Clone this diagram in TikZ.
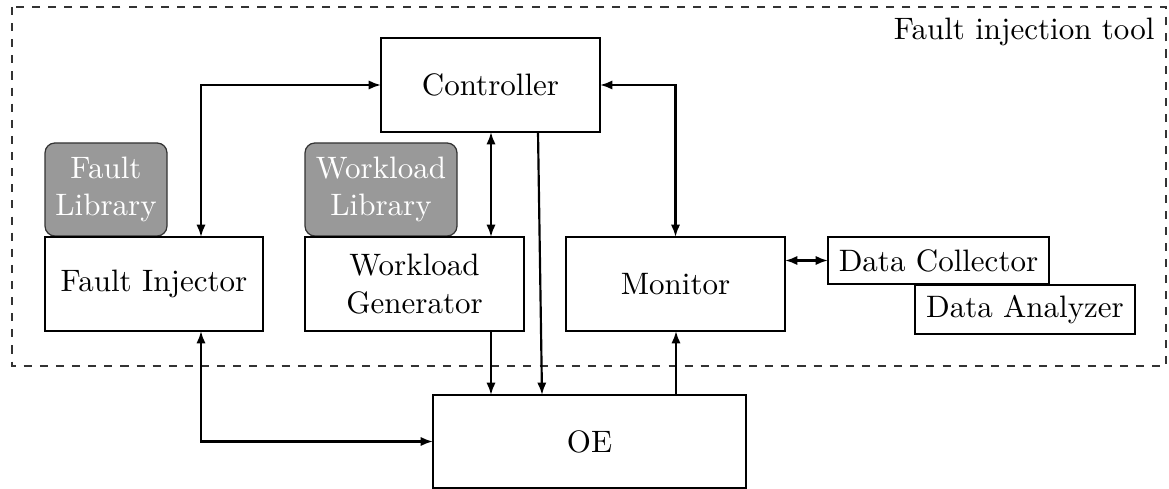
\documentclass[tikz,border=0pt]{standalone}
\usetikzlibrary{arrows.meta}

% one drawing unit = one pixel of the final image
\def\px{0.3226pt}

\tikzset{
  blk/.style n args={2}{draw, line width=0.4pt, inner sep=0pt, outer sep=0pt,
    minimum width=#1*\px, minimum height=#2*\px, align=center, font=\normalsize},
  lib/.style n args={2}{blk={#1}{#2}, rounded corners=3.2pt, fill=black!40,
    draw=black!80, text=white},
  conn/.style={line width=0.7pt},
  onetip/.style={conn, -{Latex[length=4pt,width=3pt]}},
  twotip/.style={conn, {Latex[length=4pt,width=3pt]}-{Latex[length=4pt,width=3pt]}},
  frame/.style={draw=black!80, line width=0.4pt, dash pattern=on 2.6pt off 2.6pt},
}

\begin{document}
\begin{tikzpicture}[x=\px, y=-\px]
  \useasboundingbox (0,0) rectangle (1169,489);

  % enclosing tool boundary
  \draw[frame] (12,7) rectangle (1166,366);
  \node[anchor=base east, inner sep=0pt] (tooltitle) at (1155,40) {Fault injection tool};

  % blocks
  \node[blk={219}{94}] (ctrl) at (490.5,85) {Controller};
  \node[lib={122}{93}] (flib) at (106,189.5) {Fault\\Library};
  \node[lib={152}{93}] (wlib) at (381,189.5) {Workload\\Library};
  \node[blk={218}{94}] (fi)  at (154,284) {Fault Injector};
  \node[blk={219}{94}] (wg)  at (414.5,284) {Workload\\Generator};
  \node[blk={219}{94}] (mon) at (675.5,284) {Monitor};
  \node[blk={221}{47}] (dc)  at (938.5,260.5) {Data Collector};
  \node[blk={220}{49}] (da)  at (1025,309.5) {Data Analyzer};
  \node[blk={313}{93}] (oe)  at (589.5,441.5) {OE};

  % connectors
  \draw[twotip] (201,0 |- fi.north) |- (ctrl.west);
  \draw[twotip] (ctrl.east) -| (mon.north);
  \draw[twotip] (491,0 |- ctrl.south) -- (491,0 |- wg.north);
  \draw[onetip] (538,0 |- ctrl.south) -- (542,0 |- oe.north);
  \draw[onetip] (491,0 |- wg.south) -- (491,0 |- oe.north);
  \draw[onetip] (676,0 |- oe.north) -- (676,0 |- mon.south);
  \draw[twotip] (201,0 |- fi.south) |- (oe.west);
  \draw[twotip] (mon.east |- dc.west) -- (dc.west);
\end{tikzpicture}
\end{document}
